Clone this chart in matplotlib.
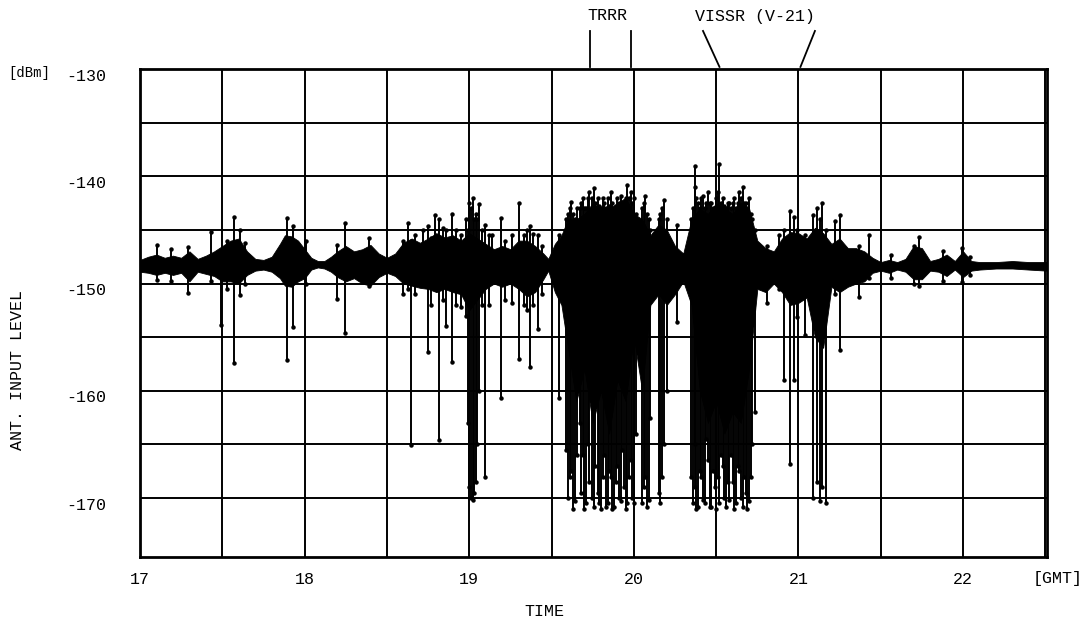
import matplotlib.pyplot as plt
from matplotlib.transforms import ScaledTranslation

# background noise band: time [h GMT], upper and lower edge [dBm]
band_t = [17.00, 17.05, 17.10, 17.15, 17.20, 17.25, 17.30, 17.35, 17.40, 17.45,
          17.50, 17.55, 17.60, 17.65, 17.70, 17.75, 17.80, 17.85, 17.88, 17.92,
          17.96, 18.00, 18.04, 18.08, 18.12, 18.16, 18.20, 18.25, 18.30, 18.35,
          18.40, 18.45, 18.50, 18.55, 18.60, 18.65, 18.70, 18.75, 18.80, 18.85,
          18.90, 18.95, 19.00, 19.05, 19.10, 19.15, 19.20, 19.25, 19.30, 19.35,
          19.40, 19.45, 19.48, 19.52, 19.56, 19.60, 19.65, 19.70, 19.75, 19.80,
          19.85, 19.90, 19.95, 20.00, 20.05, 20.10, 20.15, 20.20, 20.25, 20.30,
          20.35, 20.40, 20.45, 20.50, 20.55, 20.60, 20.65, 20.70, 20.75, 20.80,
          20.85, 20.90, 20.95, 21.00, 21.05, 21.10, 21.15, 21.20, 21.25, 21.30,
          21.35, 21.40, 21.45, 21.50, 21.55, 21.60, 21.65, 21.70, 21.75, 21.80,
          21.85, 21.90, 21.95, 22.00, 22.05, 22.10, 22.20, 22.30, 22.40, 22.51]
band_hi = [-147.8, -147.5, -147.3, -147.6, -147.4, -147.6, -147.0, -147.7, -147.4, -147.0,
           -146.5, -146.0, -145.8, -147.0, -147.7, -147.8, -147.5, -146.3, -145.5, -145.6,
           -146.0, -146.8, -147.6, -147.9, -147.9, -147.5, -147.0, -146.5, -147.0, -146.8,
           -146.4, -147.2, -147.6, -147.2, -146.2, -145.8, -146.2, -145.8, -145.3, -145.7,
           -145.5, -146.0, -145.3, -145.8, -146.3, -146.8, -146.5, -146.8, -146.0, -146.0,
           -146.5, -147.2, -147.7, -146.3, -145.5, -144.0, -144.0, -143.5, -142.5, -143.0,
           -143.0, -142.5, -142.0, -143.5, -144.0, -145.5, -144.5, -145.0, -146.5, -147.2,
           -144.0, -143.0, -143.5, -142.5, -143.0, -143.5, -142.5, -143.0, -146.0, -146.7,
           -147.0, -145.8, -145.2, -145.3, -145.8, -144.8, -145.3, -146.3, -145.8, -146.7,
           -146.7, -147.0, -147.6, -148.0, -147.8, -148.0, -147.7, -146.5, -146.7, -147.9,
           -147.7, -147.3, -147.9, -147.0, -147.9, -148.0, -148.0, -147.9, -148.0, -148.0]
band_lo = [-148.9, -149.0, -149.2, -149.0, -149.2, -149.0, -149.8, -148.9, -149.1, -149.3,
           -149.8, -149.8, -150.0, -149.2, -148.8, -148.7, -148.9, -149.5, -150.2, -150.3,
           -149.8, -149.5, -148.7, -148.5, -148.6, -148.9, -149.4, -149.8, -149.5, -150.0,
           -150.2, -149.4, -149.0, -149.3, -150.0, -150.2, -150.4, -150.5, -150.8, -150.5,
           -150.8, -151.0, -152.5, -151.5, -150.5, -150.0, -150.3, -150.0, -150.5, -151.2,
           -150.8, -149.6, -148.8, -150.8, -152.0, -156.0, -161.0, -158.0, -163.0, -160.0,
           -164.0, -159.0, -161.0, -155.0, -160.0, -152.0, -151.0, -152.0, -151.0, -149.8,
           -152.0, -160.0, -163.0, -161.0, -164.0, -162.0, -163.0, -158.0, -150.5, -150.8,
           -150.0, -150.8, -152.0, -151.8, -151.3, -155.0, -156.0, -150.3, -150.8, -150.3,
           -150.0, -149.8, -149.0, -148.8, -149.0, -148.7, -148.9, -149.6, -149.6, -148.8,
           -148.9, -149.3, -148.7, -149.4, -148.8, -148.7, -148.6, -148.6, -148.7, -148.8]

# individual fades / peaks: time, top and bottom of the pen stroke [dBm]
spike_t = [17.10, 17.19, 17.29, 17.43, 17.49, 17.53, 17.573, 17.61, 17.64, 17.89,
           17.93, 18.01, 18.196, 18.246, 18.39, 18.60, 18.63, 18.648, 18.67, 18.72,
           18.749, 18.77, 18.793, 18.814, 18.84, 18.86, 18.895, 18.92, 18.95, 18.98,
           18.99, 19.00, 19.01, 19.02, 19.03, 19.04, 19.05, 19.06, 19.08, 19.097,
           19.12, 19.14, 19.19, 19.22, 19.26, 19.30, 19.33, 19.35, 19.37, 19.39,
           19.42, 19.44, 19.547, 19.585, 19.60, 19.61, 19.62, 19.63, 19.64, 19.655,
           19.67, 19.68, 19.69, 19.70, 19.71, 19.72, 19.73, 19.745, 19.755, 19.765,
           19.78, 19.79, 19.80, 19.81, 19.82, 19.83, 19.84, 19.85, 19.86, 19.87,
           19.88, 19.89, 19.90, 19.91, 19.92, 19.93, 19.94, 19.95, 19.96, 19.97,
           19.98, 19.99, 20.00, 20.01, 20.05, 20.06, 20.07, 20.08, 20.09, 20.10,
           20.15, 20.16, 20.17, 20.185, 20.20, 20.26, 20.35, 20.36, 20.37, 20.374,
           20.38, 20.39, 20.40, 20.41, 20.42, 20.43, 20.44, 20.45, 20.46, 20.47,
           20.48, 20.49, 20.50, 20.51, 20.52, 20.53, 20.54, 20.55, 20.56, 20.57,
           20.58, 20.59, 20.60, 20.61, 20.62, 20.63, 20.64, 20.65, 20.66, 20.67,
           20.68, 20.69, 20.70, 20.71, 20.72, 20.735, 20.81, 20.88, 20.91, 20.946,
           20.97, 20.99, 21.04, 21.09, 21.11, 21.13, 21.144, 21.17, 21.22, 21.255,
           21.37, 21.43, 21.56, 21.70, 21.73, 21.88, 21.995, 22.04]
spike_top = [-146.4, -146.8, -146.6, -145.2, -147.0, -146.0, -143.8, -145.0, -146.2, -143.9,
             -144.6, -146.0, -146.4, -144.4, -145.8, -146.0, -144.4, -146.0, -145.5, -145.0,
             -144.6, -145.8, -143.6, -144.0, -144.8, -145.0, -143.5, -145.0, -145.5, -144.0,
             -145.0, -142.5, -143.0, -142.0, -144.0, -143.5, -144.0, -142.6, -145.0, -144.5,
             -145.5, -145.5, -143.9, -146.0, -145.5, -142.5, -145.5, -145.0, -144.6, -145.4,
             -145.5, -146.5, -145.5, -144.0, -143.5, -143.0, -142.4, -143.5, -144.0, -143.0,
             -143.0, -142.5, -142.0, -143.0, -143.0, -142.0, -141.5, -142.0, -141.1, -142.5,
             -142.0, -142.8, -143.0, -142.0, -142.5, -143.0, -142.0, -142.8, -141.5, -142.5,
             -143.5, -142.8, -142.0, -142.5, -141.8, -142.8, -142.5, -142.0, -140.8, -142.0,
             -141.5, -142.5, -142.0, -143.5, -143.0, -142.5, -141.8, -143.5, -144.0, -145.0,
             -144.0, -143.5, -143.0, -142.2, -144.0, -144.5, -144.0, -143.0, -141.0, -139.0,
             -142.0, -142.5, -143.0, -142.0, -141.8, -143.0, -142.5, -141.5, -142.5, -142.5,
             -143.0, -143.0, -142.0, -141.5, -138.9, -142.5, -142.0, -142.8, -143.0, -142.5,
             -142.5, -143.0, -142.5, -142.0, -143.0, -142.5, -141.5, -142.0, -141.0, -142.5,
             -142.5, -143.0, -142.0, -143.5, -144.0, -145.0, -146.5, -145.5, -145.0, -143.2,
             -143.8, -145.0, -145.5, -143.6, -143.0, -144.0, -142.5, -145.0, -144.2, -143.6,
             -146.5, -145.5, -147.3, -146.5, -145.7, -147.0, -146.7, -147.5]
spike_bot = [-149.7, -149.8, -150.9, -149.8, -153.9, -150.5, -157.4, -151.1, -150.0, -157.1,
             -154.1, -150.0, -151.4, -154.6, -150.2, -151.0, -150.5, -165.1, -151.0, -150.0,
             -156.4, -152.0, -150.5, -164.6, -151.5, -154.0, -157.3, -152.0, -152.2, -153.0,
             -163.0, -169.0, -170.0, -170.2, -169.5, -168.5, -165.0, -160.0, -152.0, -168.0,
             -152.0, -149.5, -160.7, -151.5, -151.8, -157.0, -152.0, -152.5, -157.8, -152.0,
             -154.2, -151.0, -160.7, -165.5, -170.0, -168.0, -167.5, -171.0, -170.3, -166.0,
             -163.0, -169.5, -166.0, -171.0, -170.5, -165.0, -168.5, -170.0, -170.8, -167.0,
             -169.5, -170.5, -171.0, -168.0, -166.0, -170.8, -170.5, -167.5, -168.0, -171.0,
             -170.8, -168.5, -167.0, -170.0, -170.3, -165.5, -169.0, -171.0, -170.5, -168.0,
             -166.5, -170.0, -170.5, -164.0, -170.5, -169.0, -168.0, -170.8, -170.2, -162.5,
             -169.5, -170.5, -168.0, -165.0, -160.0, -153.6, -168.0, -170.5, -169.0, -165.0,
             -171.0, -170.8, -167.5, -168.0, -170.2, -170.5, -164.5, -166.5, -170.8, -170.8,
             -167.5, -169.0, -171.0, -168.0, -170.5, -166.0, -167.0, -170.0, -170.8, -168.5,
             -170.2, -166.0, -168.5, -171.0, -170.5, -167.0, -167.5, -170.0, -170.8, -168.0,
             -169.5, -171.0, -170.3, -168.0, -165.0, -162.0, -151.8, -150.5, -159.0, -166.8,
             -159.0, -153.1, -154.8, -170.0, -168.5, -170.3, -169.0, -170.5, -151.0, -156.2,
             -151.3, -149.5, -149.5, -150.0, -150.2, -149.8, -149.9, -149.2]

x_ticks = [17, 18, 19, 20, 21, 22]
y_ticks = [-130, -140, -150, -160, -170]

plt.rcParams['font.family'] = 'Liberation Mono'

fig = plt.figure(figsize=(10.84, 6.18), dpi=100)
ax = fig.add_axes([0.1292, 0.0987, 0.8367, 0.7896])

# chart paper grid: every half hour and every 5 dB
for t in [17.5 + 0.5 * i for i in range(11)]:
    ax.axvline(t, color='black', lw=1.4, zorder=1)
for v in range(-170, -129, 5):
    ax.axhline(v, color='black', lw=1.4, zorder=1)

ax.fill_between(band_t, band_lo, band_hi, color='black', lw=0.6, zorder=2)
ax.vlines(spike_t, spike_bot, spike_top, color='black', lw=1.4, zorder=3)
ax.plot(spike_t, spike_top, 'o', color='black', ms=2.2, zorder=3)
ax.plot(spike_t, spike_bot, 'o', color='black', ms=2.2, zorder=3)

ax.set_xlim(17, 22.51)
ax.set_ylim(-175.5, -130)
ax.set_xticks(x_ticks)
ax.set_xticklabels([str(x) for x in x_ticks], fontsize=12)
ax.set_yticks(y_ticks)
ax.set_yticklabels([str(y) for y in y_ticks], fontsize=12)
ax.tick_params(length=0)
ax.tick_params(axis='x', pad=11)
ax.tick_params(axis='y', pad=24)
shift = ScaledTranslation(0, -4 / 72, fig.dpi_scale_trans)
for lbl in ax.get_yticklabels():
    lbl.set_transform(lbl.get_transform() + shift)
for s in ax.spines.values():
    s.set_linewidth(2)

fig.text(8 / 1084, 1 - 73 / 618, '[dBm]', fontsize=10, ha='left', va='center')
fig.text(1058 / 1084, 1 - 578 / 618, '[GMT]', fontsize=12, ha='center', va='center')
fig.text(544 / 1084, 1 - 612 / 618, 'TIME', fontsize=12, ha='center', va='center')
fig.text(18 / 1084, 1 - 370 / 618, 'ANT. INPUT LEVEL', fontsize=12, rotation=90,
         ha='center', va='center')

# TRRR and VISSR markers above the frame
fig.text(607 / 1084, 1 - 16 / 618, 'TRRR', fontsize=12, ha='center', va='center')
fig.text(755 / 1084, 1 - 16 / 618, 'VISSR (V-21)', fontsize=12, ha='center', va='center')
for x0, x1 in [(19.735, 19.735), (19.98, 19.98), (20.42, 20.52), (21.10, 21.012)]:
    ax.plot([x0, x1], [-126.45, -129.8], color='black', lw=1.3, clip_on=False)

fig.savefig('out.png', dpi=100)
